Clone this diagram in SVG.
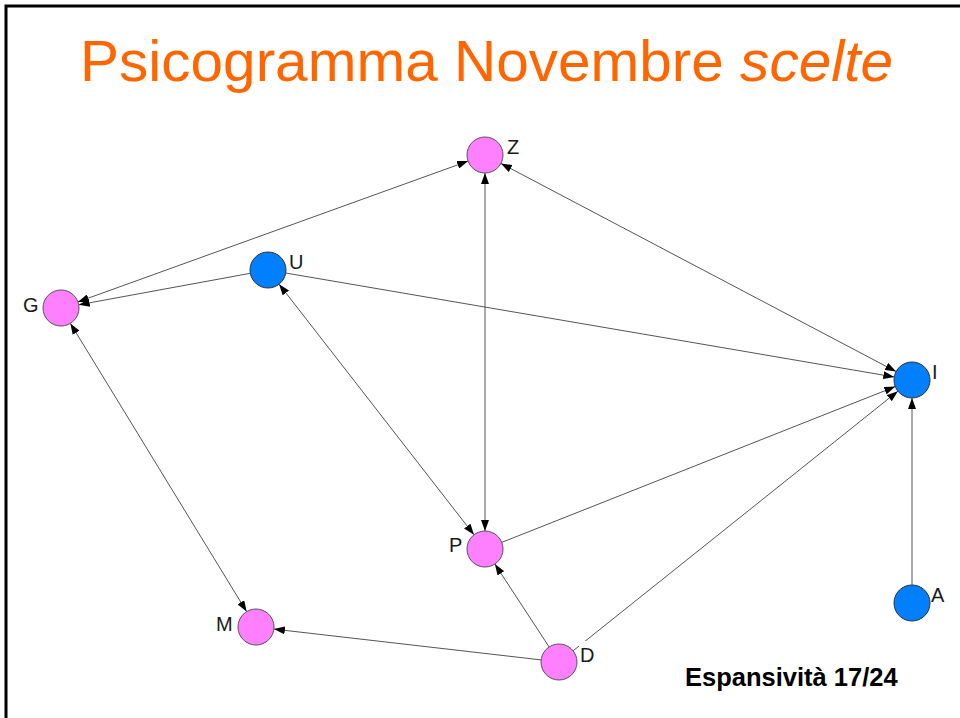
<svg xmlns="http://www.w3.org/2000/svg" width="960" height="718" viewBox="0 0 960 718">
<defs>
<style>
.title{font-family:"Liberation Sans",Arial,sans-serif;font-size:58px;fill:#FF6600}
.lbl{font-family:"Liberation Sans",Arial,sans-serif;font-size:20px;fill:#1a1a1a}
.note{font-family:"Liberation Sans",Arial,sans-serif;font-size:25.5px;font-weight:bold;fill:#000}
.pink{fill:#FF80FF;stroke:#555;stroke-width:1}
.blue{fill:#0080FF;stroke:#333;stroke-width:1}
.edge{stroke:#555;stroke-width:1;fill:none}
</style>
<marker id="ah" viewBox="0 0 11 8" refX="11" refY="4" markerWidth="11" markerHeight="8" markerUnits="userSpaceOnUse" orient="auto-start-reverse">
<path d="M0,0 L11,4 L0,8 Z" fill="#000"/>
</marker>
</defs>
<rect x="0" y="0" width="960" height="718" fill="#fff"/>
<path d="M6,718 V6 H960" fill="none" stroke="#000" stroke-width="3"/>
<text class="title" x="80" y="81" textLength="813" lengthAdjust="spacingAndGlyphs">Psicogramma Novembre <tspan font-style="italic">scelte</tspan></text>
<g id="connectors">
<line class="edge" x1="77.9" y1="301.9" x2="468.1" y2="161.1" marker-start="url(#ah)" marker-end="url(#ah)"/>
<line class="edge" x1="250.3" y1="273.3" x2="78.7" y2="304.8" marker-end="url(#ah)"/>
<line class="edge" x1="285.7" y1="273.0" x2="894.3" y2="377.0" marker-end="url(#ah)"/>
<line class="edge" x1="500.9" y1="163.4" x2="896.1" y2="371.6" marker-start="url(#ah)" marker-end="url(#ah)"/>
<line class="edge" x1="485" y1="173" x2="485" y2="531" marker-start="url(#ah)" marker-end="url(#ah)"/>
<line class="edge" x1="279.1" y1="284.2" x2="474.0" y2="534.8" marker-start="url(#ah)" marker-end="url(#ah)"/>
<line class="edge" x1="501.7" y1="542.4" x2="895.3" y2="386.6" marker-end="url(#ah)"/>
<line class="edge" x1="573.1" y1="650.8" x2="897.9" y2="391.2" marker-end="url(#ah)"/>
<line class="edge" x1="549.1" y1="646.9" x2="494.9" y2="564.1" marker-end="url(#ah)"/>
<line class="edge" x1="541.1" y1="659.9" x2="273.9" y2="629.1" marker-end="url(#ah)"/>
<line class="edge" x1="70.4" y1="323.4" x2="246.6" y2="611.6" marker-start="url(#ah)" marker-end="url(#ah)"/>
<line class="edge" x1="912" y1="585" x2="912" y2="398" marker-end="url(#ah)"/>
</g>
<g id="node-Z"><circle class="pink" cx="485" cy="155" r="18"/><text class="lbl" x="507" y="154">Z</text></g>
<g id="node-U"><circle class="blue" cx="268" cy="270" r="18"/><text class="lbl" x="289" y="269">U</text></g>
<g id="node-G"><circle class="pink" cx="61" cy="308" r="18"/><text class="lbl" x="23" y="312">G</text></g>
<g id="node-I"><circle class="blue" cx="912" cy="380" r="18"/><text class="lbl" x="932" y="379">I</text></g>
<g id="node-P"><circle class="pink" cx="485" cy="549" r="18"/><text class="lbl" x="449" y="552">P</text></g>
<g id="node-M"><circle class="pink" cx="256" cy="627" r="18"/><text class="lbl" x="216" y="631">M</text></g>
<g id="node-D"><circle class="pink" cx="559" cy="662" r="18"/><rect x="579" y="641" width="17" height="22" fill="#fff"/><text class="lbl" x="580" y="662">D</text></g>
<g id="node-A"><circle class="blue" cx="912" cy="603" r="18"/><text class="lbl" x="931" y="602">A</text></g>
<text class="note" x="685" y="686">Espansività 17/24</text>
</svg>
